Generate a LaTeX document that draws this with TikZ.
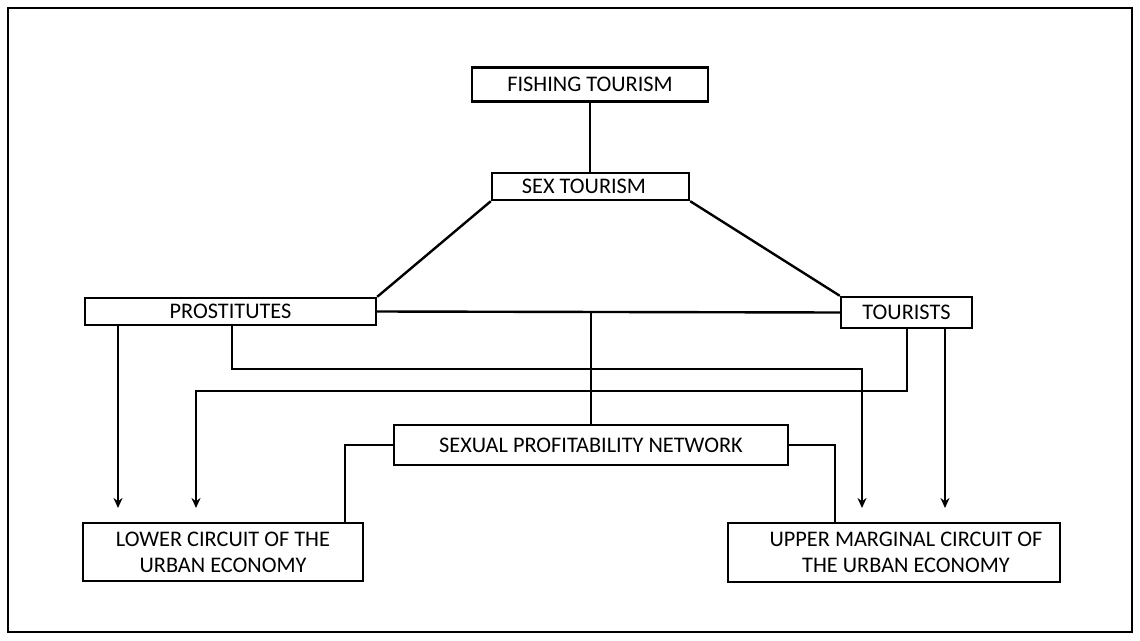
\documentclass[tikz,border=0pt]{standalone}
\usepackage{fontspec}
\setmainfont{Carlito}
\usetikzlibrary{arrows.meta}
\begin{document}
\begin{tikzpicture}[x=1pt,y=-1pt,
  box/.style={draw, line width=2.4pt, inner sep=0pt, fill=white,
    font=\fontsize{22.3}{26}\selectfont, align=center},
  con/.style={line width=2.4pt},
  arr/.style={con, -{Stealth[length=10pt,width=9pt]}}]
\useasboundingbox (0,0) rectangle (1140,640);
\draw[line width=1.8pt] (8,8) rectangle (1132,632);
% nodes
\node[box, minimum width=236pt, minimum height=34pt] (fish) at (590,84.5) {FISHING TOURISM};
\node[box, minimum width=197pt, minimum height=27pt] (sex) at (590.5,186.5) {SEX TOURISM\hspace*{13pt}};
\node[box, minimum width=291pt, minimum height=27pt] (pros) at (230.5,311.5) {PROSTITUTES};
\node[box, minimum width=131pt, minimum height=31pt] (tour) at (906.5,312.5) {TOURISTS};
\node[box, minimum width=394pt, minimum height=40pt] (net) at (591,445) {SEXUAL PROFITABILITY NETWORK};
\node[box, minimum width=280pt, minimum height=58pt] (low) at (223,552) {LOWER CIRCUIT OF THE\\URBAN ECONOMY};
\node[box, minimum width=332pt, minimum height=59pt] (up) at (894,552.5) {\hspace*{24pt}UPPER MARGINAL CIRCUIT OF\\\hspace*{24pt}THE URBAN ECONOMY};
% coordinates
\coordinate (a1) at (118,508);
\coordinate (a2) at (196,508);
\coordinate (a3) at (862,508);
\coordinate (a4) at (945,508);
\coordinate (p2) at (232,369);
\coordinate (t1) at (907,391);
\coordinate (n1) at (345,0);
\coordinate (n2) at (835,0);
% connectors
\draw[con] (fish.south) -- (fish.south |- sex.north);
\draw[con] (sex.south west) -- (pros.north east);
\draw[con] (sex.south east) -- (tour.north west);
\draw[con] (pros.east) -- (tour.west);
\draw[con] (net.north |- pros.east) -- (net.north);
\draw[arr] (a1 |- pros.south) -- (a1);
\draw[arr] (p2 |- pros.south) -- (p2) -| (a3);
\draw[arr] (t1 |- tour.south) -- (t1) -| (a2);
\draw[arr] (a4 |- tour.south) -- (a4);
\draw[con] (net.west) -| (n1 |- low.north);
\draw[con] (net.east) -| (n2 |- up.north);
\end{tikzpicture}
\end{document}
